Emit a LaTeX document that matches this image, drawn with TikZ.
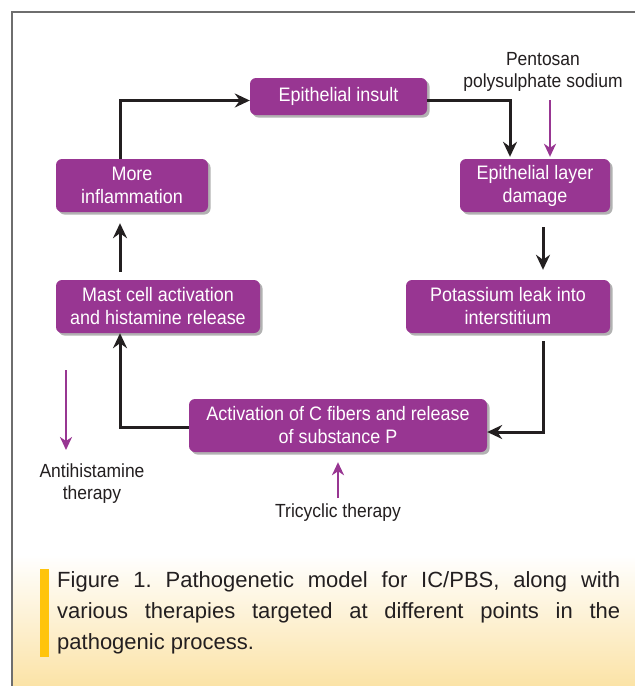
\documentclass[tikz,border=0pt]{standalone}
\usepackage{fontspec}
\setmainfont{Liberation Sans}
\newfontfamily\boxfont[FakeStretch=0.92]{Liberation Sans}
\usetikzlibrary{arrows.meta,shadows,calc}
\definecolor{boxpurple}{RGB}{152,54,146}
\definecolor{txt}{RGB}{35,31,32}
\definecolor{bary}{RGB}{255,196,12}
\definecolor{capbg}{RGB}{251,226,164}
\definecolor{framec}{RGB}{110,110,110}
\begin{document}
\frenchspacing
\begin{tikzpicture}[x=1pt,y=-1pt,
  pbox/.style={fill=boxpurple, rounded corners=6pt, text=white, align=center,
    font=\boxfont\fontsize{19.5}{23}\selectfont, inner sep=0pt,
    drop shadow={shadow xshift=2.5pt, shadow yshift=-2.5pt, opacity=0.3, fill=black}},
  conn/.style={draw=txt, line width=3pt, -{Stealth[length=15pt,width=14pt,inset=5pt]}},
  parrow/.style={draw=boxpurple, line width=2.8pt, -{Stealth[length=13pt,width=12pt,inset=4pt]}},
  lbl/.style={text=txt, align=center, font=\boxfont\fontsize{19}{22}\selectfont, inner sep=0pt}]
\useasboundingbox (0,0) rectangle (635,686);
% background and frame
\fill[white] (0,0) rectangle (635,686);
\shade[top color=white, bottom color=capbg] (12,555) rectangle (640,690);
\draw[framec, line width=1.2pt] (640,12) -- (12,12) -- (12,690);

% boxes
\node[pbox, minimum width=177pt, minimum height=37pt] (ins) at (338.5,96.5) {Epithelial insult};
\node[pbox, minimum width=150pt, minimum height=53pt] (dam) at (535,185.5) {Epithelial layer\\damage};
\node[pbox, minimum width=204pt, minimum height=53pt] (pot) at (508,306.5) {Potassium leak into\\interstitium};
\node[pbox, minimum width=298pt, minimum height=53pt] (act) at (338,425.5) {Activation of C fibers and release\\of substance P};
\node[pbox, minimum width=204pt, minimum height=53pt] (mast) at (158,306.5) {Mast cell activation\\and histamine release};
\node[pbox, minimum width=152pt, minimum height=53pt] (more) at (132,185.5) {More\\inflammation};

% helper columns
\coordinate (lcol) at (120,0);
\coordinate (ccol) at (510,0);
\coordinate (mcol) at (543,0);

% black connectors
\draw[conn] (more.north -| lcol) |- ([yshift=-4pt]ins.west);
\draw[conn] ([yshift=-4pt]ins.east) -| ([yshift=2pt]dam.north -| ccol);
\draw[conn] ([yshift=-15pt]dam.south -| mcol) -- ([yshift=10pt]pot.north -| mcol);
\draw[conn] ([yshift=-8pt]pot.south -| mcol) |- ([yshift=-6.5pt]act.east);
\draw[conn] ([yshift=-1.5pt]act.west) -| (mast.south -| lcol);
\draw[conn] ([yshift=8pt]mast.north -| lcol) -- ([yshift=-11pt]more.south -| lcol);

% therapy labels and arrows
\node[lbl] (pen) at (543,72) {Pentosan\\polysulphate sodium};
\coordinate (pentail) at (550,100);
\draw[parrow] (pentail) -- ([yshift=2pt]dam.north -| pentail);

\node[lbl] (anti) at (92,484) {Antihistamine\\therapy};
\coordinate (antitail) at (66,370);
\coordinate (antitip) at (66,450);
\draw[parrow] (antitail) -- (antitip);

\node[lbl] (tri) at (338,513) {Tricyclic therapy};
\coordinate (tritail) at (338,498);
\draw[parrow] (tritail) -- ([yshift=-10pt]act.south);

% caption
\fill[bary] (40,569) rectangle (49,657);
\node[anchor=base west, inner sep=0pt, text=txt, font=\fontsize{22}{31}\selectfont] (cap1) at (57,587)
  {\makebox[563pt][s]{Figure 1. Pathogenetic model for IC/PBS, along with}};
\node[anchor=base west, inner sep=0pt, text=txt, font=\fontsize{22}{31}\selectfont] (cap2) at (57,618)
  {\makebox[563pt][s]{various therapies targeted at different points in the}};
\node[anchor=base west, inner sep=0pt, text=txt, font=\fontsize{22}{31}\selectfont] (cap3) at (57,649)
  {pathogenic process.};
\end{tikzpicture}
\end{document}
